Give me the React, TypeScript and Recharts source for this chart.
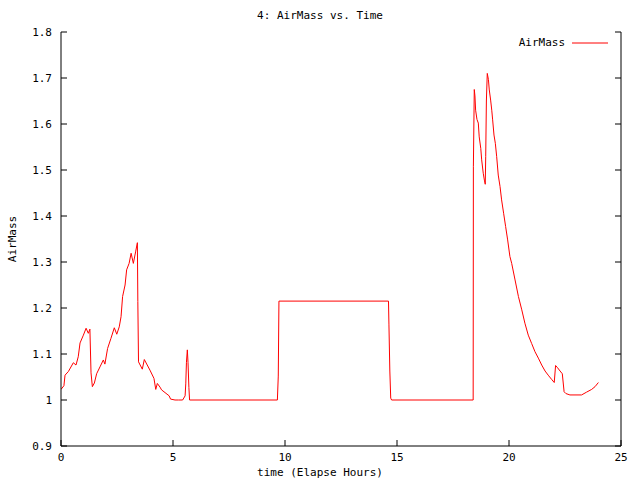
import React from "react";
import { LineChart, Line, XAxis, YAxis, Legend } from "recharts";

const time = [
  0, 0.13, 0.18, 0.33, 0.55, 0.67, 0.77, 0.85, 1.0, 1.12, 1.22, 1.29, 1.34, 1.4,
  1.49, 1.59, 1.74, 1.89, 1.96, 2.08, 2.23, 2.38, 2.49, 2.6, 2.68, 2.75, 2.86,
  2.93, 3.04, 3.13, 3.23, 3.33, 3.41, 3.43, 3.46, 3.63, 3.72, 3.97, 4.15, 4.23,
  4.3, 4.42, 4.49, 4.83, 4.89, 5.09, 5.24, 5.43, 5.54, 5.57, 5.6, 5.64, 5.67,
  5.71, 5.74, 9.66, 9.7, 9.73, 14.62, 14.64, 14.68, 14.72, 14.76, 18.4, 18.41,
  18.45, 18.48, 18.51, 18.57, 18.63, 18.67, 18.74, 18.78, 18.85, 18.9, 18.94,
  18.96, 18.99, 19.03, 19.08, 19.12, 19.18, 19.23, 19.27, 19.33, 19.39, 19.45,
  19.52, 19.6, 19.67, 19.76, 19.85, 19.94, 20.04, 20.12, 20.27, 20.42, 20.57,
  20.71, 20.86, 21.01, 21.16, 21.31, 21.46, 21.61, 21.75, 21.9, 22.02, 22.08,
  22.17, 22.28, 22.38, 22.46, 22.54, 22.72, 23.24, 23.46, 23.69, 23.84, 23.99,
];
const airMass = [
  1.023, 1.031, 1.054, 1.062, 1.081, 1.076, 1.094, 1.124, 1.141, 1.156, 1.145,
  1.154, 1.059, 1.029, 1.037, 1.057, 1.072, 1.087, 1.078, 1.112, 1.134, 1.157,
  1.143, 1.159, 1.181, 1.225, 1.25, 1.283, 1.297, 1.319, 1.297, 1.322, 1.342,
  1.214, 1.083, 1.067, 1.088, 1.065, 1.047, 1.023, 1.036, 1.028, 1.022, 1.009,
  1.002, 1.0, 1.0, 1.0, 1.009, 1.035, 1.082, 1.109, 1.082, 1.027, 1.0, 1.0,
  1.052, 1.215, 1.215, 1.165, 1.063, 1.004, 1.0, 1.0, 1.507, 1.675, 1.661, 1.63,
  1.61, 1.602, 1.572, 1.547, 1.522, 1.493, 1.478, 1.469, 1.529, 1.65, 1.71,
  1.697, 1.674, 1.652, 1.63, 1.609, 1.576, 1.558, 1.529, 1.489, 1.464, 1.435,
  1.406, 1.377, 1.348, 1.312, 1.297, 1.261, 1.225, 1.196, 1.167, 1.141, 1.123,
  1.105, 1.091, 1.076, 1.063, 1.054, 1.045, 1.038, 1.075, 1.07, 1.063, 1.057,
  1.018, 1.014, 1.011, 1.011, 1.017, 1.023, 1.029, 1.038,
];
const xTicks = [0, 5, 10, 15, 20, 25];
const yTicks = [0.9, 1, 1.1, 1.2, 1.3, 1.4, 1.5, 1.6, 1.7, 1.8];

const data = time.map((t, i) => ({ t, AirMass: airMass[i] }));

const FONT = '"DejaVu Sans Mono", monospace';
const tickStyle = { fontSize: 11, fill: "#000", fontFamily: FONT };
const fmtY = (v: number) => (v === 1 ? "1" : v.toFixed(1));
const blank = () => "";

function LegendBox({ payload }: any) {
  const item = payload && payload[0];
  return (
    <div style={{ display: "flex", alignItems: "center", justifyContent: "flex-end", fontFamily: FONT, fontSize: 11 }}>
      <span>{item ? item.value : "AirMass"}</span>
      <svg width={44} height={10} style={{ marginLeft: 7 }}>
        <line x1={0} x2={36} y1={5} y2={5} stroke="#ff0000" strokeWidth={1} />
      </svg>
    </div>
  );
}

export default function App() {
  return (
    <div style={{ position: "absolute", left: 0, top: 0, width: 640, height: 480, background: "#fff", fontFamily: FONT }}>
      <div style={{ position: "absolute", left: 0, width: 640, top: 9, textAlign: "center", fontSize: 11 }}>
        4: AirMass vs. Time
      </div>
      <div style={{ position: "absolute", left: 0, width: 640, top: 466, textAlign: "center", fontSize: 11 }}>
        time (Elapse Hours)
      </div>
      <div
        style={{
          position: "absolute", left: 12, top: 239, fontSize: 11, whiteSpace: "nowrap",
          transform: "translate(-50%, -50%) rotate(-90deg)",
        }}
      >
        AirMass
      </div>

      <LineChart width={640} height={480} data={data} margin={{ top: 32, right: 0, bottom: 0, left: 0 }}>
        <XAxis xAxisId="b" dataKey="t" type="number" domain={[0, 25]} ticks={xTicks} allowDataOverflow
          height={34} tickSize={-6} tickMargin={13} tick={tickStyle}
          axisLine={{ stroke: "#000" }} tickLine={{ stroke: "#000" }} />
        <XAxis xAxisId="top" orientation="top" type="number" domain={[0, 25]} ticks={xTicks} allowDataOverflow
          height={0} tickSize={-6} tickFormatter={blank}
          axisLine={{ stroke: "#000" }} tickLine={{ stroke: "#000" }} />
        <YAxis yAxisId="l" type="number" domain={[0.9, 1.8]} ticks={yTicks} allowDataOverflow
          width={61} tickSize={-6} tickMargin={15} tick={tickStyle} tickFormatter={fmtY}
          axisLine={{ stroke: "#000" }} tickLine={{ stroke: "#000" }} />
        <YAxis yAxisId="r" orientation="right" type="number" domain={[0.9, 1.8]} ticks={yTicks} allowDataOverflow
          width={19} tickSize={-6} tickFormatter={blank}
          axisLine={{ stroke: "#000" }} tickLine={{ stroke: "#000" }} />
        <Legend content={<LegendBox />} verticalAlign="middle" align="center"
          wrapperStyle={{ position: "absolute", top: 36, left: 456, width: 160 }} />
        <Line xAxisId="b" yAxisId="l" type="linear" dataKey="AirMass" name="AirMass"
          stroke="#ff0000" strokeWidth={1} dot={false} activeDot={false} isAnimationActive={false} />
      </LineChart>
    </div>
  );
}
